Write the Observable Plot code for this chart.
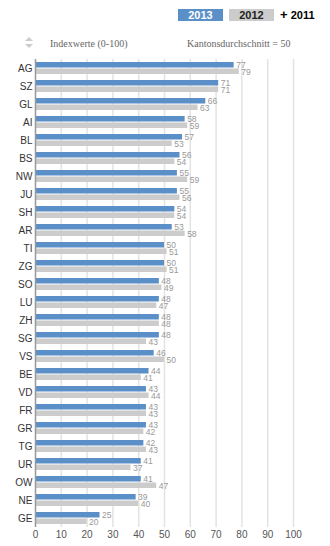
<!DOCTYPE html>
<html>
<head>
<meta charset="utf-8">
<script src="https://cdn.jsdelivr.net/npm/d3@7"></script>
<script src="https://cdn.jsdelivr.net/npm/@observablehq/plot@0.6"></script>
<style>
  html, body { margin: 0; padding: 0; background: #fff; }
  #wrap { position: relative; width: 330px; height: 546px; overflow: hidden; font-family: Arial, "Liberation Sans", sans-serif; }
  .lg { position: absolute; top: 9px; height: 12px; line-height: 12px; font-size: 11px; font-weight: bold; text-align: center; }
  .hd { position: absolute; top: 38px; font-family: "Liberation Serif", "DejaVu Serif", serif; font-size: 10px; color: #666; }
  #chart { position: absolute; left: 0; top: 50px; }
</style>
</head>
<body>
<div id="wrap">
  <div class="lg" style="left:178px;width:45px;background:#5b8fc7;color:#fff;">2013</div>
  <div class="lg" style="left:229px;width:45px;background:#cccccc;color:#222;">2012</div>
  <div class="lg" style="left:280px;width:40px;color:#000;text-align:left;"><span style="font-size:13px;">+</span> 2011</div>
  <svg style="position:absolute;left:25px;top:37px" width="8" height="12">
    <path d="M4,0 L8,4 L0,4 Z" fill="#ccc"/>
    <path d="M0,7 L8,7 L4,11 Z" fill="#ccc"/>
  </svg>
  <div class="hd" style="left:50px;">Indexwerte (0-100)</div>
  <div class="hd" style="left:187px;">Kantonsdurchschnitt = 50</div>
  <div id="chart"></div>
</div>
<script>
const cantons = ["AG","SZ","GL","AI","BL","BS","NW","JU","SH","AR","TI","ZG","SO","LU","ZH","SG","VS","BE","VD","FR","GR","TG","UR","OW","NE","GE"];
const v2013 = [77,71,66,58,57,56,55,55,54,53,50,50,48,48,48,48,46,44,43,43,43,42,41,41,39,25];
const v2012 = [79,71,63,59,53,54,59,56,54,58,51,51,49,47,48,43,50,41,44,43,42,43,37,47,40,20];
const xTicks = [0,10,20,30,40,50,60,70,80,90,100];

const rows13 = cantons.map((c, i) => ({canton: c, value: v2013[i]}));
const rows12 = cantons.map((c, i) => ({canton: c, value: v2012[i]}));

const blue = "#5b8fc7", gray = "#cccccc";

const chart = Plot.plot({
  width: 330,
  height: 496,
  marginTop: 9,
  marginBottom: 19,
  marginLeft: 35,
  marginRight: 37,
  style: {fontFamily: "Arial, 'Liberation Sans', sans-serif", fontSize: "10px", color: "#444", background: "transparent"},
  x: {domain: [0, 100], ticks: xTicks, label: null},
  y: {domain: cantons, padding: 0, label: null},
  marks: [
    Plot.gridX(xTicks.slice(1), {stroke: "#e3e3e3", strokeOpacity: 1, strokeWidth: 1.5}),
    Plot.barX(rows13, {x: "value", y: "canton", fill: blue, insetTop: 3, insetBottom: 9.5}),
    Plot.barX(rows12, {x: "value", y: "canton", fill: gray, insetTop: 9.5, insetBottom: 3}),
    Plot.text(rows13, {x: "value", y: "canton", text: d => String(d.value), dx: 2, dy: -3.6, textAnchor: "start", fill: "#999", fontSize: 8.5}),
    Plot.text(rows12, {x: "value", y: "canton", text: d => String(d.value), dx: 2, dy: 3.6, textAnchor: "start", fill: "#999", fontSize: 8.5}),
    Plot.ruleX([0], {stroke: "#999", strokeWidth: 1.5}),
    Plot.axisY({tickSize: 0, tickPadding: 3, fill: "#333", fontSize: 10}),
    Plot.axisX({ticks: xTicks, tickSize: 0, tickPadding: 3, fill: "#555", fontSize: 10})
  ]
});
document.getElementById("chart").appendChild(chart);
</script>
</body>
</html>
